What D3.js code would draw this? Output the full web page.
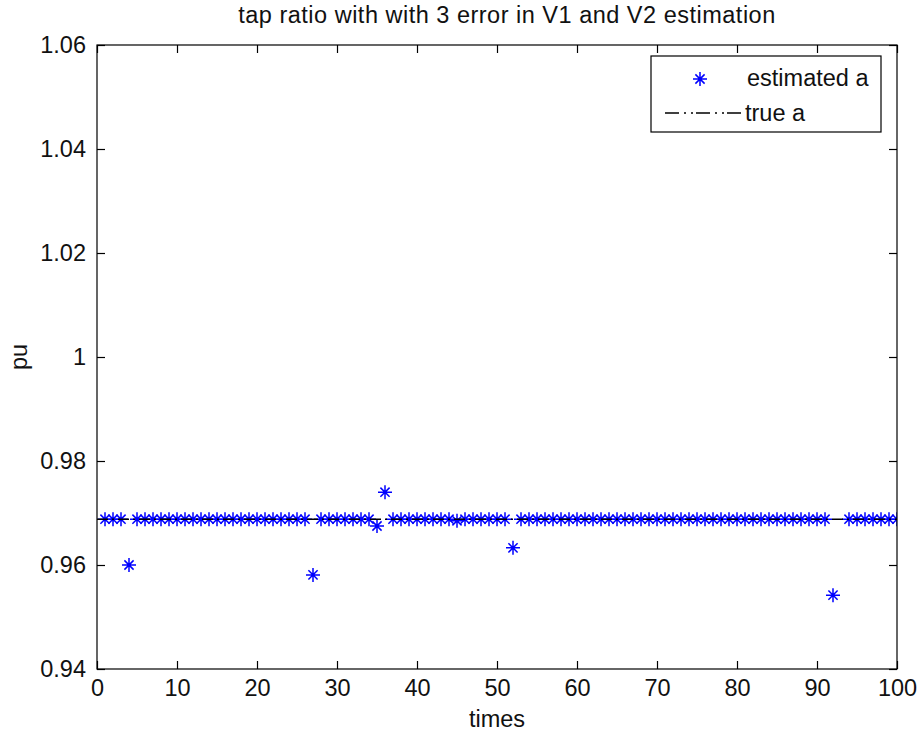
<!DOCTYPE html>
<html>
<head>
<meta charset="utf-8">
<script src="https://cdn.jsdelivr.net/npm/d3@7"></script>
<style>
  html, body { margin: 0; padding: 0; background: #ffffff; }
  text { font-family: "Liberation Sans", Arial, Helvetica, sans-serif; fill: #111; }
</style>
</head>
<body>
<svg id="chart" width="920" height="740"></svg>
<script>
// ---- data ----
const times = [1,2,3,4,5,6,7,8,9,10,11,12,13,14,15,16,17,18,19,20,
  21,22,23,24,25,26,27,28,29,30,31,32,33,34,35,36,37,38,39,40,
  41,42,43,44,45,46,47,48,49,50,51,52,53,54,55,56,57,58,59,60,
  61,62,63,64,65,66,67,68,69,70,71,72,73,74,75,76,77,78,79,80,
  81,82,83,84,85,86,87,88,89,90,91,92,93,94,95,96,97,98,99,100];
const estimatedA = [
  0.9688,0.9688,0.9688,0.9600,0.9688,0.9688,0.9688,0.9688,0.9688,0.9688,
  0.9688,0.9688,0.9688,0.9688,0.9688,0.9688,0.9688,0.9688,0.9688,0.9688,
  0.9688,0.9688,0.9688,0.9688,0.9688,0.9688,0.9581,0.9688,0.9688,0.9688,
  0.9688,0.9688,0.9688,0.9688,0.9675,0.9740,0.9688,0.9688,0.9688,0.9688,
  0.9688,0.9688,0.9688,0.9688,0.9685,0.9688,0.9688,0.9688,0.9688,0.9688,
  0.9688,0.9633,0.9688,0.9688,0.9688,0.9688,0.9688,0.9688,0.9688,0.9688,
  0.9688,0.9688,0.9688,0.9688,0.9688,0.9688,0.9688,0.9688,0.9688,0.9688,
  0.9688,0.9688,0.9688,0.9688,0.9688,0.9688,0.9688,0.9688,0.9688,0.9688,
  0.9688,0.9688,0.9688,0.9688,0.9688,0.9688,0.9688,0.9688,0.9688,0.9688,
  0.9688,0.9542,null,0.9688,0.9688,0.9688,0.9688,0.9688,0.9688,0.9688];
const trueX = [0, 100];
const trueA = [0.9688, 0.9688];
const xTicks = [0,10,20,30,40,50,60,70,80,90,100];
const yTicks = [0.94,0.96,0.98,1.00,1.02,1.04,1.06];
const yTickLabels = ["0.94","0.96","0.98","1","1.02","1.04","1.06"];
const titleText = "tap ratio with with 3 error in V1 and V2 estimation";
const xLabel = "times";
const yLabel = "pu";
const legendLabels = ["estimated a", "true a"];

// ---- layout ----
const svg = d3.select("#chart");
const mLeft = 97, mRight = 897, mTop = 45, mBottom = 669;
const x = d3.scaleLinear().domain([0, 100]).range([mLeft, mRight]);
const y = d3.scaleLinear().domain([0.94, 1.06]).range([mBottom, mTop]);
const fs = 23.5;
const tickLen = 8;

svg.append("rect").attr("width", 920).attr("height", 740).attr("fill", "#fff");

// star marker
const R = 7, D = 4.6;
const starPath = `M${-R},0L${R},0M0,${-R}L0,${R}M${-D},${-D}L${D},${D}M${-D},${D}L${D},${-D}`;

svg.append("defs").append("clipPath").attr("id", "clip")
  .append("rect").attr("x", mLeft).attr("y", mTop).attr("width", mRight - mLeft).attr("height", mBottom - mTop);

const plot = svg.append("g").attr("clip-path", "url(#clip)");

const pts = times.map((t, i) => ({t, v: estimatedA[i]})).filter(d => d.v !== null);
plot.selectAll("path.star").data(pts).enter().append("path")
  .attr("class", "star")
  .attr("d", starPath)
  .attr("transform", d => `translate(${x(d.t)},${y(d.v)})`)
  .attr("fill", "none").attr("stroke", "#0000ff").attr("stroke-width", 1.5);

const line = d3.line().x(d => x(d[0])).y(d => y(d[1]));
plot.append("path")
  .attr("d", line(trueX.map((t, i) => [t, trueA[i]])))
  .attr("fill", "none").attr("stroke", "#000").attr("stroke-width", 1.5)
  .attr("stroke-dasharray", "11,4,2,4");

// axes box
svg.append("rect").attr("x", mLeft).attr("y", mTop).attr("width", mRight - mLeft).attr("height", mBottom - mTop)
  .attr("fill", "none").attr("stroke", "#000").attr("stroke-width", 1.2);

// ticks
const axisBottom = d3.axisBottom(x).tickValues(xTicks).tickSizeInner(-tickLen).tickSizeOuter(0).tickPadding(10);
const gx = svg.append("g").attr("transform", `translate(0,${mBottom})`).call(axisBottom);
const axisTop = d3.axisTop(x).tickValues(xTicks).tickSizeInner(-tickLen).tickSizeOuter(0).tickFormat("");
const gxt = svg.append("g").attr("transform", `translate(0,${mTop})`).call(axisTop);
const axisLeft = d3.axisLeft(y).tickValues(yTicks).tickSizeInner(-tickLen).tickSizeOuter(0).tickPadding(11)
  .tickFormat((d, i) => yTickLabels[i]);
const gy = svg.append("g").attr("transform", `translate(${mLeft},0)`).call(axisLeft);
const axisRight = d3.axisRight(y).tickValues(yTicks).tickSizeInner(-tickLen).tickSizeOuter(0).tickFormat("");
const gyr = svg.append("g").attr("transform", `translate(${mRight},0)`).call(axisRight);

[gx, gxt, gy, gyr].forEach(g => {
  g.select(".domain").remove();
  g.selectAll("line").attr("stroke", "#000").attr("stroke-width", 1.2);
  g.selectAll("text").attr("font-size", fs).attr("font-family", '"Liberation Sans", Arial, sans-serif').attr("fill", "#111");
});
gx.selectAll("text").attr("dy", "0.71em");

// title and labels
svg.append("text").attr("x", (mLeft + mRight) / 2 + 10).attr("y", 23).attr("text-anchor", "middle")
  .attr("font-size", fs).attr("letter-spacing", 0.5).text(titleText);
svg.append("text").attr("x", (mLeft + mRight) / 2).attr("y", 727).attr("text-anchor", "middle")
  .attr("font-size", fs).text(xLabel);
svg.append("text").attr("transform", "translate(27,357) rotate(-90)").attr("text-anchor", "middle")
  .attr("font-size", fs).text(yLabel);

// legend
const lg = svg.append("g");
lg.append("rect").attr("x", 651).attr("y", 56).attr("width", 230).attr("height", 76)
  .attr("fill", "#fff").attr("stroke", "#000").attr("stroke-width", 1.2);
lg.append("path").attr("d", starPath).attr("transform", "translate(700,79)")
  .attr("fill", "none").attr("stroke", "#0000ff").attr("stroke-width", 1.5);
lg.append("line").attr("x1", 665).attr("x2", 741).attr("y1", 113).attr("y2", 113)
  .attr("stroke", "#000").attr("stroke-width", 1.3).attr("stroke-dasharray", "14,5,2,5,2,3");
lg.append("text").attr("x", 747).attr("y", 86).attr("font-size", fs).text(legendLabels[0]);
lg.append("text").attr("x", 745).attr("y", 121).attr("font-size", fs).text(legendLabels[1]);
</script>
</body>
</html>
